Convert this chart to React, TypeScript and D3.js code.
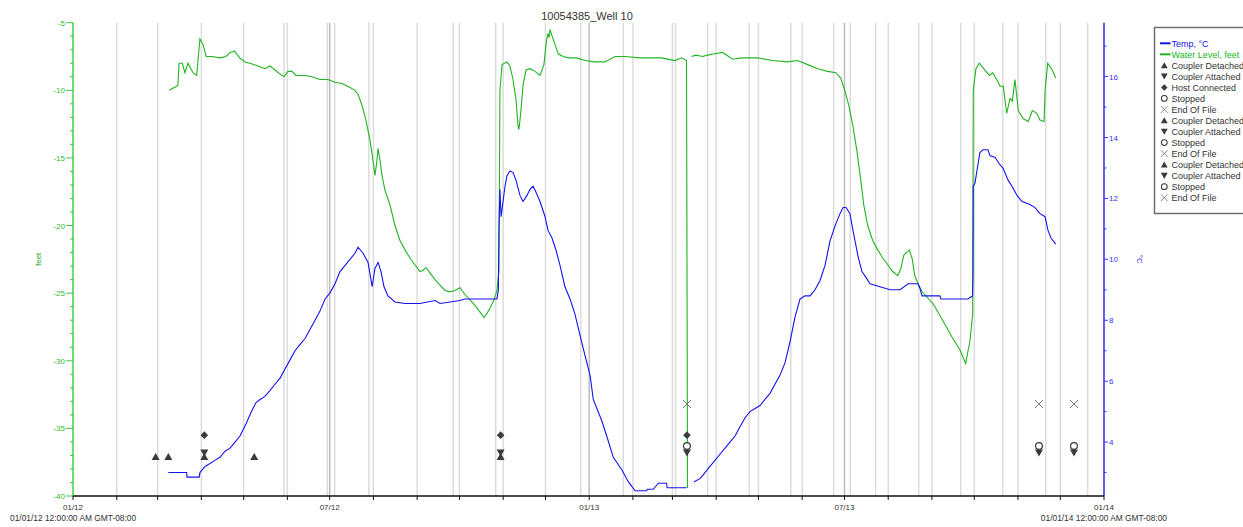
import React from "react";
import * as d3 from "d3";

const W = 1243;
const H = 527;
const START = Date.UTC(2012, 0, 1);
const END = Date.UTC(2014, 0, 1);

// days since 01/01/12, water level in feet
const levelA: [number, number][] = [
  [68.1, -10.0], [73.5, -9.7], [74.4, -9.6], [75.2, -8.0], [77.5, -8.0], [79.4, -8.7], [81.5, -8.0],
  [85.1, -8.7], [87.7, -8.9], [89.3, -7.0], [90.0, -6.2], [92.2, -6.6], [94.5, -7.5], [98.6, -7.5],
  [104.2, -7.6], [108.5, -7.5], [111.3, -7.2], [114.6, -7.1], [118.2, -7.6], [122.0, -7.9], [125.5, -8.0],
  [131.2, -8.2], [136.1, -8.4], [139.7, -8.2], [143.2, -8.5], [146.8, -8.8], [149.6, -9.0], [152.4, -8.6],
  [155.3, -8.6], [158.1, -8.9], [164.5, -8.9], [169.4, -9.0], [175.1, -9.2], [180.8, -9.2], [185.8, -9.4],
  [190.7, -9.5], [196.4, -9.8], [199.9, -10.0], [202.1, -10.3], [204.9, -11.1], [207.7, -12.2], [210.6, -13.7],
  [212.7, -15.2], [214.1, -16.3], [215.5, -15.2], [216.3, -14.3], [217.7, -15.2], [219.1, -16.3], [221.2, -17.4],
  [224.8, -18.5], [228.3, -20.0], [231.8, -21.1], [235.4, -21.8], [238.9, -22.4], [242.5, -22.9], [246.0, -23.4],
  [248.2, -23.3], [250.3, -23.1], [253.1, -23.5], [256.7, -24.0], [260.2, -24.4], [263.8, -24.8], [267.3, -24.9],
  [270.8, -24.8], [274.4, -24.6], [277.9, -25.1], [281.5, -25.5], [285.0, -25.9], [288.6, -26.4], [291.4, -26.8],
  [293.5, -26.5], [295.7, -26.1], [298.5, -25.5], [300.6, -24.8], [302.0, -23.3], [302.7, -10.0], [304.2, -8.1],
  [307.7, -7.9], [309.8, -8.2], [312.0, -9.2], [314.1, -10.7], [315.5, -12.6], [316.2, -12.9], [317.6, -11.5],
  [319.1, -9.6], [321.2, -8.5], [324.0, -8.4], [327.6, -8.6], [331.1, -8.9], [333.9, -8.1], [335.4, -6.6],
  [336.6, -5.8], [337.5, -6.1], [338.2, -5.5], [339.4, -5.9], [341.7, -6.6], [344.1, -7.3], [347.4, -7.5],
  [351.2, -7.6], [357.1, -7.6], [363.0, -7.8], [370.1, -7.9], [377.2, -7.9], [384.3, -7.5], [391.4, -7.5],
  [402.0, -7.6], [417.4, -7.6], [426.8, -7.8], [431.6, -7.6], [435.0, -7.8], [435.7, -39.4],
];
const levelB: [number, number][] = [
  [438.5, -7.5], [441.6, -7.4], [446.4, -7.5], [449.9, -7.4], [454.7, -7.3], [460.6, -7.2], [467.7, -7.7],
  [474.8, -7.6], [485.4, -7.6], [496.0, -7.8], [506.7, -7.9], [513.8, -7.8], [520.9, -8.1], [528.0, -8.4],
  [535.1, -8.6], [540.8, -8.7], [544.3, -9.1], [547.2, -10.0], [550.0, -11.1], [552.9, -12.6], [555.7, -14.4],
  [558.5, -16.6], [560.7, -18.5], [563.5, -20.0], [567.0, -21.1], [570.6, -21.8], [574.1, -22.4], [577.7, -22.9],
  [581.2, -23.4], [584.8, -23.7], [586.9, -23.2], [589.0, -22.2], [592.9, -21.8], [594.9, -22.4], [596.8, -23.7],
  [599.1, -24.3], [602.0, -24.9], [610.0, -25.8], [617.1, -27.1], [623.0, -28.2], [628.9, -29.2], [632.9, -30.2],
  [636.0, -28.5], [637.9, -26.5], [638.3, -10.0], [640.2, -8.4], [642.6, -8.0], [646.6, -8.5], [649.7, -8.9],
  [652.1, -8.7], [654.9, -9.2], [657.3, -9.7], [659.6, -9.7], [662.0, -11.7], [664.4, -10.6], [666.0, -10.8],
  [667.9, -9.2], [670.2, -11.5], [673.8, -12.1], [677.3, -12.3], [680.2, -11.5], [683.3, -11.7], [685.6, -12.2],
  [688.5, -12.3], [689.2, -10.0], [691.1, -8.0], [693.9, -8.4], [696.8, -9.1],
];

// days since 01/01/12, temperature in °C
const tempA: [number, number][] = [
  [67.6, 3.0], [80.6, 3.0], [80.8, 2.85], [89.5, 2.85], [90.0, 3.0], [93.6, 3.2], [97.1, 3.3], [100.6, 3.4],
  [104.2, 3.5], [107.8, 3.7], [111.3, 3.8], [114.9, 4.0], [118.4, 4.2], [120.5, 4.4], [122.7, 4.6], [125.5, 4.9],
  [127.6, 5.1], [129.8, 5.3], [132.6, 5.4], [136.1, 5.5], [139.7, 5.7], [143.2, 5.9], [146.8, 6.1], [150.3, 6.4],
  [153.9, 6.7], [157.4, 7.0], [160.9, 7.2], [164.5, 7.4], [168.0, 7.7], [171.6, 8.0], [175.1, 8.3], [178.7, 8.7],
  [182.2, 8.9], [185.8, 9.2], [189.3, 9.6], [192.9, 9.8], [196.4, 10.0], [199.9, 10.2], [202.1, 10.4],
  [205.7, 10.2], [209.2, 9.9], [212.1, 9.1], [214.1, 9.7], [216.3, 9.9], [218.4, 9.6], [220.5, 9.1], [223.3, 8.8],
  [228.3, 8.6], [235.4, 8.55], [246.0, 8.55], [256.7, 8.65], [260.2, 8.55], [274.4, 8.65], [277.9, 8.7],
  [300.6, 8.7], [301.6, 9.0], [302.0, 11.0], [302.7, 12.3], [303.5, 11.4], [304.9, 11.9], [306.3, 12.4],
  [307.7, 12.75], [309.8, 12.9], [312.0, 12.85], [314.1, 12.6], [316.9, 12.1], [319.1, 11.9], [321.9, 12.1],
  [324.0, 12.3], [326.2, 12.4], [328.3, 12.2], [331.1, 11.9], [334.7, 11.4], [336.8, 10.95], [339.6, 10.7],
  [342.5, 10.3], [345.3, 9.8], [348.8, 9.1], [352.4, 8.7], [355.9, 8.2], [359.5, 7.5], [363.0, 6.85],
  [366.6, 6.2], [368.9, 5.4], [374.9, 4.7], [378.4, 4.2], [383.1, 3.5], [389.0, 3.1], [393.7, 2.7], [398.5, 2.4],
  [406.8, 2.4], [407.2, 2.45], [411.4, 2.45], [415.0, 2.65], [420.9, 2.65], [421.2, 2.5], [435.1, 2.5],
];
const tempB: [number, number][] = [
  [440.3, 2.7], [444.6, 2.8], [448.1, 3.0], [451.6, 3.2], [455.2, 3.4], [458.7, 3.6], [462.3, 3.8], [465.8, 4.0],
  [469.4, 4.2], [472.9, 4.5], [476.5, 4.8], [480.0, 5.0], [483.6, 5.1], [487.1, 5.2], [490.6, 5.4], [494.2, 5.6],
  [497.7, 5.9], [501.3, 6.2], [504.8, 6.6], [508.4, 7.3], [511.9, 8.1], [515.5, 8.7], [519.0, 8.8], [522.6, 8.8],
  [526.1, 9.0], [529.6, 9.3], [533.2, 9.8], [536.7, 10.6], [540.3, 11.1], [543.8, 11.5], [546.0, 11.7],
  [548.1, 11.7], [550.9, 11.5], [552.4, 11.1], [554.5, 10.6], [556.6, 10.1], [559.4, 9.6], [562.3, 9.4],
  [565.1, 9.2], [572.2, 9.1], [579.3, 9.0], [586.4, 9.0], [592.2, 9.2], [599.1, 9.2], [600.5, 9.05], [602.0, 8.8],
  [614.7, 8.8], [615.4, 8.7], [634.6, 8.7], [636.0, 8.75], [637.8, 8.8], [638.1, 9.5], [638.3, 12.4],
  [639.5, 12.5], [640.9, 12.9], [643.0, 13.5], [645.2, 13.6], [648.7, 13.6], [650.2, 13.4], [653.7, 13.35],
  [657.3, 13.1], [659.4, 13.0], [663.0, 12.6], [665.8, 12.4], [669.3, 12.1], [672.9, 11.9], [678.5, 11.8],
  [682.1, 11.7], [685.6, 11.5], [689.2, 11.4], [691.3, 10.95], [693.4, 10.7], [696.8, 10.5],
];

// logger events (days since 01/01/12)
const coupleDetached = [58.6, 67.6, 93.1, 128.5, 303.2];
const coupleAttached = [93.1, 303.2, 435.3, 684.9, 709.7];
const hostConnected = [93.1, 303.2, 435.3];
const stoppedEvents = [435.3, 684.9, 709.7];
const endOfFile = [435.3, 684.9, 709.7];
// level (feet) at which each event row is drawn
const rowDetached = -37.1;
const rowAttached = -36.8;
const rowHost = -35.5;
const rowStopped = -36.3;
const rowEof = -33.2;

// extra grid lines from the logger file (days since 01/01/12)
const logGrid = [149.6, 180.3, 185.5, 209.7, 269.6, 299.7, 360, 390.2, 427.3, 450, 479.5, 508.9, 539.3, 551.1,
  569.1, 599.6, 629.4, 659.2, 689.7, 719.4];

const legendItems = [
  ["line", "Temp, °C"], ["line", "Water Level, feet"],
  ["up", "Coupler Detached"], ["down", "Coupler Attached"], ["diamond", "Host Connected"], ["circle", "Stopped"], ["x", "End Of File"],
  ["up", "Coupler Detached"], ["down", "Coupler Attached"], ["circle", "Stopped"], ["x", "End Of File"],
  ["up", "Coupler Detached"], ["down", "Coupler Attached"], ["circle", "Stopped"], ["x", "End Of File"],
];

const BLUE = "#1414f0";
const GREEN = "#22b422";
const MARK = "#3a3a3a";
const FONT = "'Liberation Sans', Arial, sans-serif";

const toDate = (d: number) => new Date(START + d * 86400000);

function Symbol({ kind, cx, cy, s = 1 }: { kind: string; cx: number; cy: number; s?: number }) {
  const t = `translate(${cx},${cy}) scale(${s})`;
  if (kind === "up") return <path transform={t} d="M0,-3.8L4,3.3L-4,3.3Z" fill={MARK} />;
  if (kind === "down") return <path transform={t} d="M0,3.8L4,-3.3L-4,-3.3Z" fill={MARK} />;
  if (kind === "diamond") return <path transform={t} d="M0,-3.8L3.8,0L0,3.8L-3.8,0Z" fill={MARK} />;
  if (kind === "circle") return <circle transform={t} r={3.4} fill="#fff" stroke={MARK} strokeWidth={1.2} />;
  return <path transform={t} d="M-4,-4L4,4M-4,4L4,-4" stroke="#666" strokeWidth={0.9} fill="none" />;
}

export default function App() {
  const left = 73, right = 1104, top = 22.7, bottom = 496;
  const x = d3.scaleUtc().domain([new Date(START), new Date(END)]).range([left, right]);
  const yL = d3.scaleLinear().domain([-40, -5]).range([bottom, top]);
  const yR = d3.scaleLinear().domain([2.23, 17.77]).range([bottom, top]);

  const levelLine = d3.line<[number, number]>().x(d => x(toDate(d[0]))).y(d => yL(d[1]));
  const tempLine = d3.line<[number, number]>().x(d => x(toDate(d[0]))).y(d => yR(d[1]));

  const months = d3.utcMonth.range(new Date(START), new Date(END + 1));
  const fmt = d3.utcFormat("%m/%y");

  const leftTicks = d3.range(-40, -4, 1);
  const rightTicks = d3.range(3, 18, 1);

  return (
    <svg width={W} height={H} style={{ position: "absolute", left: 0, top: 0, background: "#fff" }} fontFamily={FONT}>
      <text x={587} y={20} fontSize={11} textAnchor="middle" fill="#333">10054385_Well 10</text>

      {/* grid */}
      {months.slice(1, -1).map((m, i) => (
        <line key={"m" + i} x1={x(m)} x2={x(m)} y1={top} y2={bottom}
          stroke={m.getUTCMonth() % 6 === 0 ? "#bdbdbd" : "#dcdcdc"} strokeWidth={1.5} />
      ))}
      {logGrid.map((d, i) => (
        <line key={"g" + i} x1={x(toDate(d))} x2={x(toDate(d))} y1={top} y2={bottom} stroke="#dcdcdc" strokeWidth={1.5} />
      ))}

      {/* series */}
      {[levelA, levelB].map((s, i) => (
        <path key={"l" + i} d={levelLine(s) || ""} fill="none" stroke={GREEN} strokeWidth={1.1} />
      ))}
      {[tempA, tempB].map((s, i) => (
        <path key={"t" + i} d={tempLine(s) || ""} fill="none" stroke={BLUE} strokeWidth={1.1} />
      ))}

      {/* events */}
      {endOfFile.map((d, i) => <Symbol key={"e" + i} kind="x" cx={x(toDate(d))} cy={yL(rowEof)} />)}
      {hostConnected.map((d, i) => <Symbol key={"h" + i} kind="diamond" cx={x(toDate(d))} cy={yL(rowHost)} />)}
      {coupleDetached.map((d, i) => <Symbol key={"cd" + i} kind="up" cx={x(toDate(d))} cy={yL(rowDetached)} />)}
      {coupleAttached.map((d, i) => <Symbol key={"ca" + i} kind="down" cx={x(toDate(d))} cy={yL(rowAttached)} />)}
      {stoppedEvents.map((d, i) => <Symbol key={"s" + i} kind="circle" cx={x(toDate(d))} cy={yL(rowStopped)} />)}

      {/* left axis */}
      <line x1={left} x2={left} y1={top} y2={bottom} stroke="#6fdc6f" strokeWidth={2} />
      {leftTicks.map(v => (
        <g key={"lt" + v}>
          <line x1={left - (v % 5 === 0 ? 7 : 3)} x2={left} y1={yL(v)} y2={yL(v)} stroke="#3cc83c" strokeWidth={1} />
          {v % 5 === 0 && (
            <text x={left - 8} y={yL(v) + 3} fontSize={8} textAnchor="end" fill="#33bb33">{v}</text>
          )}
        </g>
      ))}
      <text transform={`translate(41,${(top + bottom) / 2}) rotate(-90)`} fontSize={8} textAnchor="middle" fill="#22aa22">feet</text>

      {/* right axis */}
      <line x1={right} x2={right} y1={top} y2={bottom} stroke="#6060ff" strokeWidth={2} />
      {rightTicks.map(v => (
        <g key={"rt" + v}>
          <line x1={right} x2={right + (v % 2 === 0 ? 4 : 2.5)} y1={yR(v)} y2={yR(v)} stroke="#3b3bff" strokeWidth={1} />
          {v % 2 === 0 && (
            <text x={right + 5} y={yR(v) + 3} fontSize={8} fill="#3333ee">{v}</text>
          )}
        </g>
      ))}
      <text transform={`translate(1137,${(top + bottom) / 2}) rotate(90)`} fontSize={8} textAnchor="middle" fill="#3333ee">°C</text>

      {/* bottom axis */}
      <line x1={left} x2={right} y1={bottom} y2={bottom} stroke="#111" strokeWidth={1.3} />
      {months.map((m, i) => (
        <g key={"bt" + i}>
          <line x1={x(m)} x2={x(m)} y1={bottom} y2={bottom + 4} stroke="#111" strokeWidth={1} />
          {m.getUTCMonth() % 6 === 0 && (
            <text x={x(m)} y={bottom + 14} fontSize={8} textAnchor="middle" fill="#333">{fmt(m)}</text>
          )}
        </g>
      ))}
      <text x={10} y={521} fontSize={8.4} fill="#333">01/01/12 12:00:00 AM GMT-08:00</text>
      <text x={1167} y={521} fontSize={8.4} textAnchor="end" fill="#333">01/01/14 12:00:00 AM GMT-08:00</text>

      {/* legend */}
      <rect x={1154.5} y={27.5} width={100} height={186} fill="#fff" stroke="#707070" strokeWidth={1.5} />
      {legendItems.map(([kind, label], i) => {
        const cy = 43.3 + i * 11.03;
        const color = i === 0 ? BLUE : i === 1 ? GREEN : "#333";
        return (
          <g key={"lg" + i}>
            {kind === "line"
              ? <line x1={1160} x2={1170.5} y1={cy} y2={cy} stroke={color} strokeWidth={2} />
              : <Symbol kind={kind} cx={1164.3} cy={cy} s={0.85} />}
            <text x={1171.5} y={cy + 3.2} fontSize={9} fill={color}>{label}</text>
          </g>
        );
      })}
    </svg>
  );
}
